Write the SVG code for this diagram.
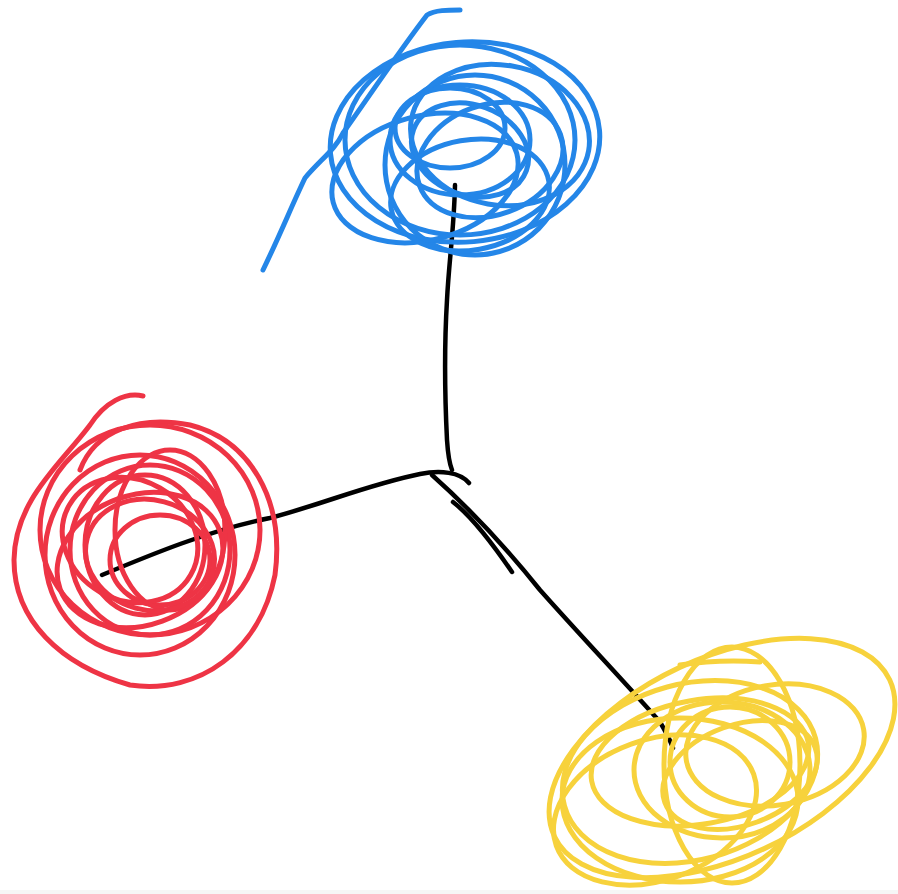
<svg xmlns="http://www.w3.org/2000/svg" width="898" height="894" viewBox="0 0 898 894">
<style>
.s{fill:none;stroke-width:5;stroke-linecap:round;stroke-linejoin:round}
.b{stroke:#2486E8}
.r{stroke:#EE3445}
.y{stroke:#F7D23C}
.k{fill:none;stroke:#000;stroke-width:4.5;stroke-linecap:round;stroke-linejoin:round}
</style>
<rect width="898" height="894" fill="#fff"/>
<rect y="890" width="898" height="4" fill="#f6f6f6"/>
<g id="connectors">
<path class="k" d="M455,185 C454,230 449,260 447,300 C444,350 445,400 447,440 C448,455 450,465 452,470"/>
<path class="k" d="M102,575 C150,555 210,530 270,518 C320,505 370,484 420,474 C440,470 460,472 469,483"/>
<path class="k" d="M432,475 C460,500 500,540 540,590 C580,635 630,688 660,722 C666,732 670,740 673,748"/>
<path class="k" d="M453,502 C470,515 490,540 512,572"/>
</g>
<g id="blue">
<path class="s b" d="M263,270 C280,235 292,205 305,178 C320,160 335,150 343,133 C370,95 400,50 427,15 C435,10 448,10 460,10"/>
<ellipse class="s b" cx="465" cy="142" rx="135" ry="100" transform="rotate(-5 465 142)"/>
<ellipse class="s b" cx="460" cy="140" rx="115" ry="95"/>
<ellipse class="s b" cx="475" cy="165" rx="90" ry="90"/>
<ellipse class="s b" cx="460" cy="140" rx="70" ry="55"/>
<ellipse class="s b" cx="470" cy="150" rx="60" ry="45" transform="rotate(20 470 150)"/>
<ellipse class="s b" cx="450" cy="128" rx="55" ry="40"/>
<ellipse class="s b" cx="490" cy="160" rx="75" ry="55" transform="rotate(-20 490 160)"/>
<ellipse class="s b" cx="425" cy="178" rx="95" ry="62" transform="rotate(-15 425 178)"/>
<ellipse class="s b" cx="500" cy="135" rx="90" ry="70" transform="rotate(10 500 135)"/>
<ellipse class="s b" cx="470" cy="195" rx="80" ry="55" transform="rotate(-10 470 195)"/>
</g>
<g id="red">
<path class="s r" d="M143,396 C125,392 105,402 90,425 C60,465 15,500 14,560 C14,620 60,665 130,685 C200,695 260,650 275,575 C285,500 250,440 190,425 C140,415 95,430 80,470"/>
<ellipse class="s r" cx="150" cy="530" rx="110" ry="105"/>
<ellipse class="s r" cx="140" cy="555" rx="95" ry="100"/>
<ellipse class="s r" cx="150" cy="550" rx="80" ry="85"/>
<ellipse class="s r" cx="145" cy="545" rx="60" ry="70"/>
<ellipse class="s r" cx="160" cy="560" rx="50" ry="45"/>
<ellipse class="s r" cx="130" cy="540" rx="70" ry="60" transform="rotate(30 130 540)"/>
<ellipse class="s r" cx="170" cy="530" rx="55" ry="80"/>
<ellipse class="s r" cx="140" cy="560" rx="85" ry="65" transform="rotate(-20 140 560)"/>
<ellipse class="s r" cx="150" cy="555" rx="65" ry="55" transform="rotate(15 150 555)"/>
</g>
<g id="yellow">
<path class="s y" d="M760,662 C730,660 700,662 680,665"/>
<ellipse class="s y" cx="722" cy="758" rx="185" ry="100" transform="rotate(-25 722 758)"/>
<ellipse class="s y" cx="690" cy="772" rx="130" ry="88" transform="rotate(-15 690 772)"/>
<ellipse class="s y" cx="722" cy="770" rx="88" ry="68"/>
<ellipse class="s y" cx="700" cy="762" rx="110" ry="62" transform="rotate(-10 700 762)"/>
<ellipse class="s y" cx="730" cy="762" rx="60" ry="55"/>
<ellipse class="s y" cx="680" cy="800" rx="118" ry="82"/>
<ellipse class="s y" cx="732" cy="765" rx="68" ry="118"/>
<ellipse class="s y" cx="775" cy="745" rx="90" ry="60" transform="rotate(-10 775 745)"/>
<ellipse class="s y" cx="740" cy="775" rx="80" ry="50" transform="rotate(-20 740 775)"/>
<ellipse class="s y" cx="655" cy="810" rx="105" ry="70" transform="rotate(-20 655 810)"/>
</g>
</svg>
